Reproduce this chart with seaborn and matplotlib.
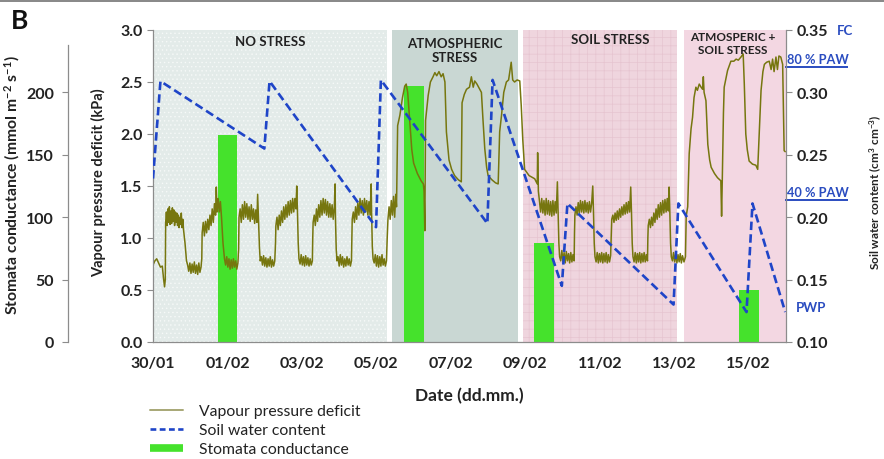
import numpy as np
import pandas as pd
import matplotlib
matplotlib.use("Agg")
import matplotlib.pyplot as plt
from matplotlib.lines import Line2D
from matplotlib.patches import Rectangle
from matplotlib import transforms
import seaborn as sns

# ---------------- data ----------------
# time axis: days since 30/01 00:00
tick_days = [0, 2, 4, 6, 8, 10, 12, 14, 16]
tick_labels = ["30/01", "01/02", "03/02", "05/02", "07/02", "09/02", "11/02", "13/02", "15/02"]

# stomatal conductance (mmol m-2 s-1), one measurement per treatment
gs_day = [2.0, 7.0, 10.5, 16.0]
gs_value = [166, 205, 79, 42]

# soil water content (cm3 cm-3): irrigation peaks and drying
swc_day = [0.00, 0.20, 2.99, 3.13, 5.99, 6.12, 8.98, 9.12, 10.98, 11.13,
           13.98, 14.11, 15.94, 16.10, 16.98]
swc_value = [0.231, 0.309, 0.255, 0.309, 0.192, 0.310, 0.195, 0.310, 0.145, 0.211,
             0.130, 0.211, 0.124, 0.211, 0.124]

# vapour pressure deficit (kPa), logger trace
vpd_day = [
    0.00, 0.05, 0.10, 0.15, 0.20, 0.25, 0.28, 0.31, 0.33, 0.34,
    0.36, 0.38, 0.40, 0.42, 0.44, 0.46, 0.48, 0.50, 0.52, 0.54, 0.56, 0.58, 0.60, 0.62,
    0.64, 0.66, 0.68, 0.70, 0.72, 0.74, 0.76, 0.78, 0.80, 0.82, 0.86, 0.90,
    0.93, 0.96, 0.99, 1.02, 1.05, 1.08, 1.11, 1.14, 1.17, 1.20, 1.23, 1.26, 1.29, 1.31, 1.32,
    1.35, 1.38, 1.41, 1.44, 1.47, 1.50, 1.53, 1.56, 1.59, 1.62, 1.65, 1.68, 1.70, 1.72,
    1.75, 1.78, 1.81, 1.84, 1.88, 1.92,
    1.95, 1.98, 2.01, 2.04, 2.07, 2.10, 2.13, 2.16, 2.19, 2.22, 2.25, 2.28, 2.30, 2.31,
    2.34, 2.37, 2.40, 2.43, 2.46, 2.49, 2.52, 2.55, 2.58, 2.61, 2.64, 2.67, 2.70, 2.73,
    2.76, 2.79, 2.81, 2.83, 2.86, 2.88,
    2.91, 2.94, 2.97, 3.00, 3.03, 3.06, 3.09, 3.12, 3.15, 3.18, 3.21, 3.24, 3.27, 3.29, 3.30,
    3.33, 3.36, 3.39, 3.42, 3.45, 3.48, 3.51, 3.54, 3.57, 3.60, 3.63, 3.66, 3.69, 3.72,
    3.75, 3.78, 3.81, 3.84, 3.86, 3.88, 3.90, 3.92,
    3.95, 3.98, 4.01, 4.04, 4.07, 4.10, 4.13, 4.16, 4.19, 4.22, 4.25, 4.28, 4.29, 4.30,
    4.33, 4.36, 4.39, 4.42, 4.45, 4.48, 4.51, 4.54, 4.57, 4.60, 4.63, 4.66, 4.69, 4.72,
    4.75, 4.78, 4.81, 4.84, 4.87, 4.89, 4.90, 4.92, 4.94,
    4.97, 5.00, 5.03, 5.06, 5.09, 5.12, 5.15, 5.18, 5.21, 5.24, 5.27, 5.30, 5.33, 5.34, 5.35,
    5.38, 5.41, 5.44, 5.47, 5.50, 5.53, 5.56, 5.59, 5.62, 5.65, 5.68, 5.71, 5.74, 5.77,
    5.80, 5.83, 5.86, 5.87, 5.89, 5.91,
    5.94, 5.97, 6.00, 6.03, 6.06, 6.09, 6.12, 6.15, 6.18, 6.21, 6.24, 6.27, 6.29, 6.31,
    6.34, 6.37, 6.40, 6.43, 6.46, 6.49, 6.52, 6.54,
    6.57, 6.63, 6.70, 6.76, 6.80, 6.84, 6.90, 6.95, 7.00, 7.10, 7.20, 7.26, 7.28, 7.30,
    7.32, 7.39, 7.45, 7.52, 7.57, 7.62, 7.68, 7.74, 7.79, 7.84, 7.88, 7.95, 8.02, 8.10,
    8.20, 8.28, 8.30, 8.36, 8.42, 8.50, 8.55, 8.60, 8.64, 8.70, 8.76, 8.82, 8.86, 8.91,
    8.96, 9.00, 9.10, 9.20, 9.27, 9.31, 9.36, 9.42, 9.49, 9.55, 9.62, 9.66, 9.71, 9.78,
    9.85, 9.89, 9.93, 9.98, 10.10, 10.25, 10.32, 10.33, 10.35, 10.38,
    10.41, 10.44, 10.47, 10.50, 10.53, 10.56, 10.59, 10.62, 10.65, 10.68, 10.71, 10.74,
    10.77, 10.80, 10.83, 10.86, 10.88, 10.90, 10.92,
    10.95, 10.98, 11.01, 11.04, 11.07, 11.10, 11.13, 11.16, 11.19, 11.22, 11.25, 11.28,
    11.31, 11.32, 11.33,
    11.36, 11.39, 11.42, 11.45, 11.48, 11.51, 11.54, 11.57, 11.60, 11.63, 11.66, 11.69,
    11.72, 11.75, 11.78, 11.81, 11.83, 11.85, 11.87,
    11.90, 11.93, 11.96, 11.99, 12.02, 12.05, 12.08, 12.11, 12.14, 12.17, 12.20, 12.23,
    12.26, 12.29, 12.31, 12.32,
    12.35, 12.38, 12.41, 12.44, 12.47, 12.50, 12.53, 12.56, 12.59, 12.62, 12.65, 12.68,
    12.71, 12.74, 12.77, 12.80, 12.83, 12.85, 12.87, 12.89,
    12.92, 12.95, 12.98, 13.01, 13.04, 13.07, 13.10, 13.13, 13.16, 13.19, 13.22, 13.25,
    13.28, 13.29, 13.30,
    13.33, 13.36, 13.39, 13.42, 13.45, 13.48, 13.51, 13.54, 13.57, 13.60, 13.63, 13.66,
    13.69, 13.72, 13.75, 13.78, 13.81, 13.84, 13.86, 13.88, 13.90, 13.92,
    13.95, 13.98, 14.01, 14.04, 14.07, 14.10, 14.13, 14.16, 14.19, 14.22, 14.26, 14.30,
    14.32, 14.36, 14.40, 14.45, 14.49, 14.53, 14.58, 14.62, 14.67, 14.72, 14.76, 14.78,
    14.80, 14.85, 14.90, 14.95, 14.99, 15.08, 15.16, 15.25, 15.27, 15.29, 15.32, 15.34,
    15.43, 15.52, 15.60, 15.66, 15.72, 15.79, 15.85, 15.88, 15.92, 15.96, 16.01, 16.10,
    16.19, 16.24, 16.28, 16.33, 16.38, 16.42, 16.48, 16.55, 16.60, 16.64, 16.68, 16.73,
    16.77, 16.81, 16.86, 16.91, 16.95, 16.98,
]
vpd_value = [
    0.74, 0.78, 0.80, 0.76, 0.72, 0.73, 0.62, 0.53, 0.60, 1.15,
    1.25, 1.12, 1.28, 1.15, 1.30, 1.13, 1.26, 1.14, 1.29, 1.16, 1.27, 1.12, 1.25, 1.15,
    1.24, 1.12, 1.22, 1.10, 1.20, 1.13, 1.24, 1.10, 1.18, 1.08, 0.95, 0.78,
    0.74, 0.68, 0.76, 0.66, 0.75, 0.67, 0.77, 0.66, 0.74, 0.65, 0.76, 0.67, 0.72, 0.80, 1.05,
    1.15, 1.02, 1.16, 1.05, 1.18, 1.08, 1.22, 1.12, 1.28, 1.15, 1.33, 1.22, 1.49, 1.25,
    1.38, 1.25, 1.35, 1.20, 0.95, 0.80,
    0.74, 0.82, 0.72, 0.80, 0.70, 0.79, 0.71, 0.80, 0.72, 0.78, 0.70, 0.76, 0.90, 1.20,
    1.28, 1.15, 1.32, 1.18, 1.35, 1.20, 1.33, 1.18, 1.30, 1.16, 1.32, 1.18, 1.28, 1.14,
    1.27, 1.15, 1.42, 1.20, 0.90, 0.78,
    0.82, 0.74, 0.83, 0.73, 0.81, 0.72, 0.80, 0.73, 0.82, 0.72, 0.79, 0.73, 0.78, 0.95, 1.12,
    1.20, 1.08, 1.22, 1.12, 1.26, 1.15, 1.30, 1.18, 1.32, 1.20, 1.35, 1.22, 1.36, 1.24,
    1.38, 1.25, 1.38, 1.28, 1.50, 1.25, 0.95, 0.80,
    0.75, 0.84, 0.74, 0.82, 0.73, 0.83, 0.74, 0.81, 0.73, 0.80, 0.74, 0.78, 1.00, 1.15,
    1.22, 1.12, 1.28, 1.16, 1.32, 1.20, 1.36, 1.22, 1.38, 1.24, 1.37, 1.22, 1.35, 1.20,
    1.33, 1.20, 1.32, 1.18, 1.30, 1.52, 1.20, 0.90, 0.78,
    0.82, 0.73, 0.84, 0.74, 0.82, 0.72, 0.80, 0.73, 0.82, 0.74, 0.80, 0.73, 0.78, 1.00, 1.18,
    1.25, 1.15, 1.30, 1.18, 1.34, 1.22, 1.38, 1.24, 1.36, 1.22, 1.38, 1.25, 1.36, 1.22,
    1.35, 1.22, 1.52, 1.25, 0.92, 0.80,
    0.76, 0.84, 0.73, 0.83, 0.72, 0.82, 0.73, 0.84, 0.74, 0.80, 0.73, 0.78, 1.00, 1.18,
    1.30, 1.18, 1.36, 1.22, 1.40, 1.20, 1.42, 1.30,
    2.08, 2.18, 2.35, 2.46, 2.48, 2.40, 2.10, 1.85, 1.72, 1.62, 1.55, 1.52, 1.45, 1.07,
    2.13, 2.37, 2.50, 2.55, 2.59, 2.56, 2.60, 2.55, 2.58, 2.50, 2.02, 1.75, 1.66, 1.60,
    1.56, 1.54, 2.30, 2.38, 2.43, 2.45, 2.55, 2.45, 2.51, 2.48, 2.44, 2.40, 2.15, 1.86,
    1.68, 1.60, 1.56, 1.53, 1.52, 2.02, 2.18, 2.40, 2.50, 2.52, 2.69, 2.52, 2.50, 2.52,
    2.51, 2.27, 1.95, 1.66, 1.60, 1.57, 1.52, 1.82, 1.45, 1.35,
    1.25, 1.38, 1.24, 1.36, 1.22, 1.38, 1.23, 1.36, 1.22, 1.35, 1.21, 1.36,
    1.22, 1.35, 1.24, 1.54, 1.25, 0.95, 0.82,
    0.78, 0.88, 0.77, 0.86, 0.76, 0.87, 0.78, 0.85, 0.76, 0.86, 0.77, 0.84,
    0.78, 1.05, 1.22,
    1.30, 1.22, 1.34, 1.24, 1.36, 1.25, 1.35, 1.24, 1.36, 1.25, 1.34, 1.24,
    1.35, 1.25, 1.33, 1.50, 1.25, 0.95, 0.82,
    0.77, 0.86, 0.76, 0.85, 0.77, 0.86, 0.76, 0.85, 0.77, 0.86, 0.76, 0.84,
    0.77, 0.83, 1.05, 1.18,
    1.22, 1.15, 1.24, 1.17, 1.26, 1.18, 1.28, 1.20, 1.30, 1.22, 1.32, 1.23,
    1.34, 1.24, 1.35, 1.25, 1.49, 1.25, 0.95, 0.82,
    0.77, 0.86, 0.76, 0.85, 0.77, 0.86, 0.76, 0.85, 0.77, 0.86, 0.77, 0.84,
    0.78, 1.00, 1.12,
    1.18, 1.10, 1.20, 1.12, 1.24, 1.15, 1.28, 1.18, 1.32, 1.20, 1.34, 1.22,
    1.36, 1.24, 1.37, 1.25, 1.38, 1.26, 1.49, 1.25, 0.95, 0.82,
    0.78, 0.86, 0.77, 0.85, 0.76, 0.84, 0.77, 0.85, 0.76, 0.83, 0.77, 0.82,
    1.21, 1.30, 1.81, 2.05, 2.16, 2.35, 2.45, 2.42, 2.48, 2.45, 2.43, 2.55,
    2.40, 2.32, 1.90, 1.75, 1.68, 1.62, 1.58, 1.55, 1.21, 1.58, 2.20, 2.45,
    2.61, 2.70, 2.70, 2.72, 2.71, 2.74, 2.77, 2.48, 2.00, 1.85, 1.74, 1.71,
    1.70, 1.66, 2.00, 2.42, 2.60, 2.67, 2.69, 2.70, 2.62, 2.72, 2.60, 2.74,
    2.62, 2.75, 2.74, 2.67, 1.84, 1.83,
]

# treatment periods (start day, end day)
period_names = ["NO STRESS", "ATMOSPHERIC\nSTRESS", "SOIL STRESS", "ATMOSPERIC +\nSOIL STRESS"]
period_start = [0.0, 6.42, 9.93, 14.27]
period_end = [6.28, 9.80, 14.06, 17.0]

# soil water reference levels (cm3 cm-3)
paw80 = 0.32
paw40 = 0.214
fc_level = 0.35
pwp_level = 0.128

# ---------------- style ----------------
sns.set_theme(style="white")
plt.rcParams["font.family"] = ["Lato", "DejaVu Sans"]
plt.rcParams["mathtext.default"] = "regular"
plt.rcParams["hatch.linewidth"] = 0.5

W, H = 884, 460
fig = plt.figure(figsize=(W / 100, H / 100), dpi=100)
ax = fig.add_axes([153 / W, 1 - 343 / H, 633 / W, 312 / H])
ax_g = ax.twinx()
ax_s = ax.twinx()
ax_g.set_zorder(ax.get_zorder() - 1)
ax.set_zorder(ax_g.get_zorder() + 1)
ax_s.set_zorder(ax.get_zorder() + 1)
ax.patch.set_visible(False)
ax_s.patch.set_visible(False)

spine_col = "#8c8c8c"
vpd_col = "#76760f"
swc_col = "#1f45c8"
gs_col = "#45e22c"
ref_col = "#2a4cc0"
txt_col = "#222222"

# treatment backgrounds
bg_face = ["#e3ebe9", "#c9d7d3", "#efd5de", "#f3d7e2"]
bg_hatch = ["....", None, "++", None]
bg_edge = ["#f6f9f8", "#c9d7d3", "#e6c4d0", "#f3d7e2"]
for s, e, fc, h, ec in zip(period_start, period_end, bg_face, bg_hatch, bg_edge):
    ax_g.axvspan(s, e, facecolor=fc, hatch=h, edgecolor=ec, linewidth=0, zorder=0)

# stomatal conductance bars
ax_g.bar(gs_day, gs_value, width=0.53, color=gs_col, zorder=2, linewidth=0)
ax_g.set_ylim(0, 250)

# VPD trace
vpd_df = pd.DataFrame({"day": vpd_day, "vpd": vpd_value})
sns.lineplot(data=vpd_df, x="day", y="vpd", ax=ax, color=vpd_col, lw=1.1,
             sort=False, estimator=None, legend=False)
ax.set_ylim(0, 3.0)

# soil water content
swc_df = pd.DataFrame({"day": swc_day, "swc": swc_value})
sns.lineplot(data=swc_df, x="day", y="swc", ax=ax_s, color=swc_col, lw=1.9,
             sort=False, estimator=None, legend=False)
ax_s.lines[-1].set_dashes([3.2, 1.6])
ax_s.set_ylim(0.10, 0.35)
ax.set_xlim(0, 17)

# ---------------- axes cosmetics ----------------
tick_kw = dict(labelsize=11.5, labelcolor=txt_col, length=4, width=0.8,
               direction="out", color=spine_col)
for a in (ax, ax_g, ax_s):
    for sp in a.spines.values():
        sp.set_visible(False)
        sp.set_color(spine_col)
        sp.set_linewidth(0.9)

ax.spines["left"].set_visible(True)
ax.spines["bottom"].set_visible(True)
ax_s.spines["right"].set_visible(True)
ax_g.spines["left"].set_visible(True)
ax_g.spines["left"].set_position(("axes", (68 - 153) / 633))
ax_g.spines["left"].set_bounds(0, 238)

ax.set_yticks(np.arange(0, 3.01, 0.5))
ax.set_yticklabels([f"{v:.1f}" for v in np.arange(0, 3.01, 0.5)], fontweight="bold")
ax.set_xticks(tick_days)
ax.set_xticklabels(tick_labels, fontweight="bold")
ax.set_xticks(np.arange(0, 18, 1), minor=True)
ax.tick_params(axis="both", which="major", **tick_kw)
ax.tick_params(axis="x", which="major", pad=6)
ax.tick_params(axis="x", which="minor", length=4, width=0.8, color=spine_col, direction="out")

ax_g.yaxis.set_ticks_position("left")
ax_g.yaxis.set_label_position("left")
ax_g.set_yticks([0, 50, 100, 150, 200])
ax_g.set_yticklabels(["0", "50", "100", "150", "200"], fontweight="bold")
ax_g.tick_params(axis="y", which="major", pad=6, **tick_kw)
ax_g.tick_params(axis="x", which="both", bottom=False, top=False,
                 labelbottom=False, labeltop=False)

ax_s.set_yticks(np.arange(0.10, 0.351, 0.05))
ax_s.set_yticklabels([f"{v:.2f}" for v in np.arange(0.10, 0.351, 0.05)], fontweight="bold")
ax_s.tick_params(axis="y", which="major", **tick_kw)
ax_s.tick_params(axis="x", which="both", bottom=False, top=False,
                 labelbottom=False, labeltop=False)

ax.set_xlabel("Date (dd.mm.)", fontsize=12.5, fontweight="bold", color=txt_col, labelpad=12)
ax.set_ylabel("Vapour pressure deficit (kPa)", fontsize=10.5, fontweight="bold", color=txt_col)
ax.yaxis.set_label_coords((106 - 153) / 633, 0.515)
ax_g.set_ylabel("Stomata conductance (mmol m$^{-2}$ s$^{-1}$)", fontsize=11.3,
                fontweight="bold", color=txt_col)
ax_g.yaxis.set_label_coords((22 - 153) / 633, 0.505)
ax_s.set_ylabel("")

fig.text(876 / W, 1 - 192 / H, "Soil water content (cm$^{3}$ cm$^{-3}$)", rotation=90,
         ha="center", va="center", fontsize=8.5, fontweight="bold", color=txt_col)

# treatment labels
label_x = [3.14, 8.1, 12.29, 15.56]
label_y = [0.965, 0.936, 0.971, 0.958]
label_fs = [9.5, 9.5, 9.5, 8.5]
for name, lx, ly, fs in zip(period_names, label_x, label_y, label_fs):
    ax.text(lx, ly, name, transform=ax.get_xaxis_transform(), ha="center", va="center",
            fontsize=fs, fontweight="bold", color=txt_col, linespacing=1.2, zorder=5)

# soil water reference levels beyond the right axis
blend = transforms.blended_transform_factory(ax_s.transAxes, ax_s.transData)
for lvl, txt in [(paw80, "80 % PAW"), (paw40, "40 % PAW")]:
    ax_s.plot([0.998, 1.098], [lvl, lvl], transform=blend, color=ref_col, lw=1.4,
              clip_on=False, solid_capstyle="butt")
    ax_s.annotate(txt, xy=(1.05, lvl), xycoords=blend, xytext=(0, 1.5),
                  textcoords="offset points", ha="center", va="bottom",
                  fontsize=9.2, fontweight="bold", color=ref_col, annotation_clip=False)
ax_s.text(1.093, fc_level, "FC", transform=blend, ha="center", va="center",
          fontsize=9.5, fontweight="bold", color=ref_col, clip_on=False)
ax_s.text(1.04, pwp_level, "PWP", transform=blend, ha="center", va="center",
          fontsize=9.5, fontweight="bold", color=ref_col, clip_on=False)

# panel letter and top rule
fig.text(11 / W, 1 - 21 / H, "B", fontsize=19, fontweight="bold", color="#111111",
         ha="left", va="center")
fig.add_artist(Rectangle((0, 1 - 3 / H), 1, 3 / H, transform=fig.transFigure,
                         facecolor="#8a8a8a", edgecolor="none"))

# legend
handles = [
    Line2D([], [], color="#a7a776", lw=1.4),
    Line2D([], [], color=swc_col, lw=1.9, dashes=[2.2, 1.3]),
    Line2D([], [], color=gs_col, lw=5.5, solid_capstyle="butt"),
]
labels = ["Vapour pressure deficit", "Soil water content", "Stomata conductance"]
fig.legend(handles, labels, loc="upper left", bbox_to_anchor=(150 / W, 1 - 405 / H),
           frameon=False, fontsize=11.3, handlelength=2.1, handletextpad=1.0,
           labelspacing=0.32, borderpad=0, borderaxespad=0, labelcolor=txt_col)

fig.savefig("out.png", dpi=100)
